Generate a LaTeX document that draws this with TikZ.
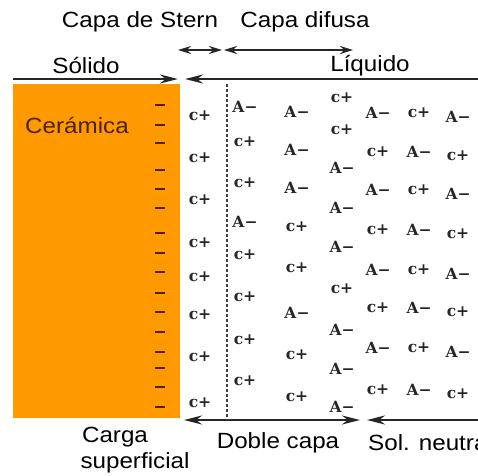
\documentclass[tikz,border=0pt]{standalone}
\usepackage{fontspec}
\setmainfont{Liberation Sans}
\newfontfamily\labelfont[FakeStretch=1.1]{Liberation Sans}
\newfontfamily\ionfont{DejaVu Serif}
\usetikzlibrary{arrows.meta}
\definecolor{ceramica}{HTML}{FF9900}
\definecolor{marron}{HTML}{4A2200}
\tikzset{>={Stealth[length=18pt,width=9pt]}}
\tikzset{
  rotulo/.style={font=\labelfont\fontsize{22}{26}\selectfont, inner sep=0pt},
  ion/.style={font=\ionfont\bfseries\fontsize{15.5}{15.5}\selectfont, inner sep=0pt, text=black!85},
  flecha/.style={line width=2.4pt, draw=black!85},
  corta/.style={flecha, >={Stealth[length=13pt,width=8pt]}}
}
\newcommand{\an}{A−}
\newcommand{\ca}{c+}

\begin{document}
\begin{tikzpicture}[x=1pt,y=-1pt]
\useasboundingbox (0,0) rectangle (478,475);
% solido
\fill[ceramica] (13,84) rectangle (180,418);
\foreach \y [count=\i] in {105,125,143,170,189,208,233,253,272,293,312,332,352,368,387,407}
  \draw[marron, line width=2.2pt] (155,\y) -- (165,\y) coordinate (carga-\i);
\coordinate (SL) at (13,79);  \coordinate (SR) at (178,79);
\coordinate (LL) at (185,79); \coordinate (LR) at (478,79);
\coordinate (ST) at (178,50); \coordinate (SF) at (222,50);
\coordinate (DI) at (224,50); \coordinate (DF) at (353,50);
\coordinate (DA) at (184,420); \coordinate (DB) at (360,420);
\coordinate (NA) at (367,420); \coordinate (NB) at (478,420);
\coordinate (PA) at (227,84); \coordinate (PB) at (227,420);
\draw[flecha, ->] (SL) -- (SR);
\draw[flecha, <-] (LL) -- (LR);
\draw[corta, <->] (ST) -- (SF);
\draw[corta, <->] (DI) -- (DF);
\draw[flecha, <->] (DA) -- (DB);
\draw[flecha, <-] (NA) -- (NB);
\draw[black!75, line width=1.3pt, dash pattern=on 3pt off 2pt] (PA) -- (PB);
% rotulos
\node[rotulo] (stern) at (140,22) {Capa de Stern};
\node[rotulo] (difusa) at (305,22) {Capa difusa};
\node[rotulo] (solido) at (86,66) {Sólido};
\node[rotulo] (liquido) at (370,66) {Líquido};
\node[rotulo, text=marron] (ceram) at (77,125) {Cerámica};
\node[rotulo] (doble) at (278,443) {Doble capa};
\node[rotulo, anchor=west] (neutra) at (368,443) {Sol. neutra};
\node[rotulo] (carga) at (115,437) {Carga};
\node[rotulo] (superf) at (135,463) {superficial};
% iones
\foreach \y [count=\i] in {116,158,200,243,277,315,357,403}
  \node[ion] (st-\i) at (200,\y) {\ca};
\foreach \q/\y [count=\i] in {\an/107,\ca/142,\ca/183,\an/222,\ca/255,\ca/297,\ca/340,\ca/381}
  \node[ion] (ua-\i) at (245,\y) {\q};
\foreach \q/\y [count=\i] in {\an/112,\an/150,\an/188,\ca/227,\ca/268,\an/313,\ca/355,\ca/397}
  \node[ion] (ub-\i) at (297,\y) {\q};
\foreach \q/\y [count=\i] in {\ca/98,\ca/130,\an/168,\an/208,\an/247,\ca/289,\an/330,\an/369,\an/407}
  \node[ion] (uc-\i) at (342,\y) {\q};
\foreach \q/\r/\y [count=\i] in {\an/\ca/113,\ca/\an/152,\an/\ca/190,\ca/\an/230,\an/\ca/270,\ca/\an/308,\an/\ca/348,\ca/\an/390}
{
  \node[ion] (na-\i) at (378,\y) {\q};
  \node[ion] (nb-\i) at (419,\y) {\r};
  \node[ion] (nc-\i) at (458,\y+4) {\q};
}
\end{tikzpicture}
\end{document}
